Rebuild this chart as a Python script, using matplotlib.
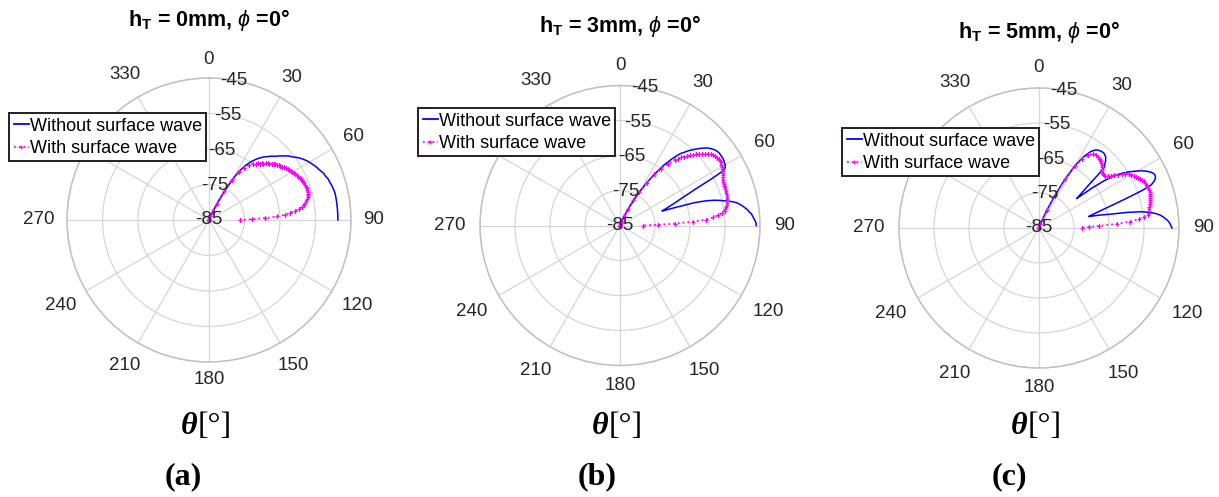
import numpy as np
import matplotlib
matplotlib.use("Agg")
import matplotlib.pyplot as plt
from matplotlib.lines import Line2D

# ---------------- data ----------------
theta_deg = np.r_[0:40:2, 40:91:1]          # sample angles (deg)
r_ticks = [-85, -75, -65, -55, -45]          # radial rings (dB)
theta_ticks = [0, 30, 60, 90, 120, 150, 180, 210, 240, 270, 330]  # 300 is hidden by the legend
titles = ["h$_\\mathbf{T}$ = 0mm, $\\phi$ =0°",
          "h$_\\mathbf{T}$ = 3mm, $\\phi$ =0°",
          "h$_\\mathbf{T}$ = 5mm, $\\phi$ =0°"]
series_labels = ["Without surface wave", "With surface wave"]
panel_tags = ["a", "b", "c"]

a_without = [-85, -85, -85, -85, -85, -85, -85, -85, -85, -85, -85,
             -83.9, -82.4, -79.9, -75.9, -71.7, -68.5, -66.3, -64.6, -63.2,
             -62.0, -61.5, -61.0, -60.6, -60.0, -59.6, -59.2, -58.6, -58.0, -57.5,
             -56.9, -56.3, -55.9, -55.5, -54.9, -54.4, -53.9, -53.5, -53.1, -52.7,
             -52.4, -52.1, -51.8, -51.5, -51.2, -51.0, -50.7, -50.4, -50.1, -50.0,
             -49.8, -49.5, -49.4, -49.3, -49.1, -49.0, -48.9, -48.8, -48.7, -48.7,
             -48.7, -48.7, -48.7, -48.7, -48.7, -48.7, -48.7, -48.7, -48.7, -48.7,
             -48.7]
a_with = [-85, -85, -85, -85, -85, -85, -85, -85, -85, -85, -85,
          -83.9, -82.4, -79.9, -75.9, -72.0, -69.1, -67.4, -66.0, -65.0,
          -64.3, -63.9, -63.6, -63.2, -62.9, -62.4, -62.0, -61.7, -61.3, -60.9,
          -60.6, -60.3, -60.0, -59.8, -59.5, -59.2, -58.9, -58.6, -58.3, -58.1,
          -57.9, -57.7, -57.5, -57.3, -57.1, -56.8, -56.6, -56.5, -56.3, -56.3,
          -56.2, -56.1, -56.1, -56.1, -56.1, -56.2, -56.3, -56.5, -56.8, -57.1,
          -57.5, -58.0, -58.6, -59.5, -60.6, -62.0, -63.4, -65.7, -69.1, -72.8,
          -76.2]
b_without = [-85, -85, -85, -85, -85, -85, -85, -85, -85, -85, -85,
             -83.8, -82.1, -79.8, -76.9, -74.1, -70.6, -67.2, -63.7, -60.8,
             -58.2, -57.4, -56.5, -55.6, -54.8, -54.1, -53.3, -52.6, -51.9, -51.3,
             -50.9, -50.5, -50.2, -50.0, -49.9, -49.9, -49.9, -49.9, -50.0, -50.2,
             -50.3, -50.6, -51.3, -55.6, -60.2, -63.1, -65.4, -67.2, -68.6, -70.0,
             -71.2, -72.3, -68.3, -62.6, -59.4, -57.1, -55.4, -53.9, -52.2, -51.0,
             -50.2, -49.5, -48.9, -48.3, -47.9, -47.3, -47.0, -46.7, -46.4, -46.1,
             -46.1]
b_with = [-85, -85, -85, -85, -85, -85, -85, -85, -85, -85, -85,
          -83.8, -82.1, -79.8, -76.9, -74.1, -70.6, -67.4, -64.9, -62.6,
          -60.5, -59.7, -58.8, -58.1, -57.4, -56.7, -55.9, -55.2, -54.5, -53.8,
          -53.2, -52.6, -52.0, -51.6, -51.3, -51.2, -51.0, -51.0, -51.0, -51.2,
          -51.3, -51.6, -51.8, -51.9, -52.2, -52.5, -52.8, -52.9, -53.1, -53.2,
          -53.2, -53.2, -53.3, -53.3, -53.3, -53.4, -53.5, -53.5, -53.6, -53.9,
          -54.2, -54.5, -54.8, -55.6, -56.8, -58.2, -60.5, -64.0, -69.2, -74.1,
          -78.4]
c_without = [-85, -85, -85, -85, -85, -85, -85, -85, -85, -85,
             -83.9, -82.1, -79.3, -74.7, -69.3, -64.4, -61.0, -58.7, -57.4, -56.9,
             -56.7, -56.7, -56.9, -57.1, -57.6, -58.1, -59.0, -59.3, -62.4, -65.9,
             -68.1, -69.9, -71.3, -66.1, -62.1, -59.3, -57.6, -56.1, -54.7, -53.6,
             -52.4, -51.3, -50.4, -49.6, -49.0, -48.6, -48.6, -48.9, -49.6, -50.7,
             -53.6, -57.6, -61.0, -63.9, -66.1, -67.9, -69.3, -70.4, -67.3, -64.4,
             -59.3, -55.3, -53.0, -51.3, -50.1, -49.3, -48.6, -48.0, -47.6, -47.3,
             -47.0]
c_with = [-85, -85, -85, -85, -85, -85, -85, -85, -85, -85,
          -83.9, -82.1, -79.3, -74.7, -69.3, -64.7, -61.9, -59.9, -58.7, -58.4,
          -58.6, -58.7, -58.9, -59.0, -59.3, -59.6, -60.0, -60.4, -60.7, -61.0,
          -61.1, -61.1, -61.0, -60.4, -59.6, -58.7, -57.7, -56.7, -55.9, -55.1,
          -54.6, -54.1, -53.7, -53.3, -53.0, -52.6, -52.3, -52.1, -52.0, -51.9,
          -51.8, -51.7, -51.8, -51.9, -52.0, -52.1, -52.3, -52.4, -52.6, -52.9,
          -53.0, -53.3, -53.4, -53.6, -54.7, -56.4, -59.0, -62.7, -67.9, -70.7,
          -72.7]

without_series = [a_without, b_without, c_without]
with_series = [a_with, b_with, c_with]

# ---------------- style / layout ----------------
plt.rcParams['font.family'] = ['Liberation Sans', 'DejaVu Sans']
plt.rcParams['mathtext.fontset'] = 'custom'
plt.rcParams['mathtext.rm'] = 'Liberation Sans'
plt.rcParams['mathtext.bf'] = 'Liberation Sans:bold'
plt.rcParams['mathtext.it'] = 'Liberation Sans:italic'

W, H = 1219, 497
fig = plt.figure(figsize=(W / 100, H / 100), dpi=100)

layout = [
    dict(cx=209, cy=220.0, R=142, ty=20, leg=(9, 113), tag_x=183),
    dict(cx=620, cy=225.5, R=140, ty=26, leg=(418, 108), tag_x=597),
    dict(cx=1039, cy=228.0, R=140, ty=32, leg=(842, 128), tag_x=1009),
]

th = np.deg2rad(theta_deg)
grid_col = '#d6d6d6'
tick_fs = 13.5
txt_col = '#262626'

for i, L in enumerate(layout):
    cx, cy, R = L['cx'], L['cy'], L['R']
    ax = fig.add_axes([(cx - R) / W, (H - cy - R) / H, 2 * R / W, 2 * R / H],
                      projection='polar')
    ax.set_theta_zero_location('N')
    ax.set_theta_direction(-1)
    ax.set_ylim(r_ticks[0], r_ticks[-1])
    ax.set_yticks(r_ticks)
    ax.set_yticklabels([])
    ax.set_xticks(np.deg2rad(np.arange(0, 360, 30)))
    ax.set_xticklabels([])
    ax.tick_params(length=0)
    ax.grid(True, color=grid_col, lw=0.9)
    ax.spines['polar'].set_color('#c0c0c0')
    ax.spines['polar'].set_linewidth(1.1)
    ax.set_facecolor('white')

    ax.plot(th, without_series[i], color='#0000ff', lw=1.1, zorder=3)
    ax.plot(th, with_series[i], color='#ff00ff', ls=':', lw=1.3,
            marker='+', ms=3.5, mew=0.9, zorder=4)

    # radial labels
    for r in r_ticks:
        ax.text(np.deg2rad(10), r, str(r), ha='center', va='center',
                fontsize=tick_fs, zorder=6, color=txt_col)
    # angular labels (centre distance grows with the label's extent)
    for ang in theta_ticks:
        s = str(ang)
        a = np.deg2rad(ang)
        w_px, h_px = 11.5 * len(s), 14.0
        dist = 153 + 0.5 * (w_px * abs(np.sin(a)) + h_px * abs(np.cos(a)))
        lab_r = r_ticks[0] + (r_ticks[-1] - r_ticks[0]) * dist / R
        ax.text(a, lab_r, s, ha='center', va='center',
                fontsize=tick_fs, color=txt_col, clip_on=False)

    # legend
    handles = [Line2D([], [], color='#0000ff', lw=1.3),
               Line2D([], [], color='#ff00ff', ls=':', lw=1.3, marker='+',
                      ms=3.5, mew=0.9)]
    lx, ly = L['leg']
    leg = ax.legend(handles, series_labels, loc='upper left',
                    bbox_to_anchor=(lx / W, 1 - ly / H),
                    bbox_transform=fig.transFigure, fontsize=13.0,
                    frameon=True, fancybox=False, framealpha=1,
                    borderpad=0.25, borderaxespad=0, handlelength=0.85,
                    handletextpad=0.05, labelspacing=0.3, numpoints=1)
    fr = leg.get_frame()
    fr.set_edgecolor('#202020')
    fr.set_linewidth(1.4)
    leg.set_zorder(10)

    # title
    fig.text(cx / W, 1 - L['ty'] / H, titles[i], ha='center', va='center',
             fontsize=15.5, fontweight='bold')
    # theta axis label
    fig.text((cx - 12) / W, 1 - 427 / H, "θ", ha='right', va='center',
             fontsize=23, fontweight='bold', fontstyle='italic',
             family='Liberation Serif')
    fig.text((cx - 11) / W, 1 - 427 / H, "[°]", ha='left', va='center',
             fontsize=23, family='Liberation Serif')
    # panel tag
    fig.text(L['tag_x'] / W, 1 - 477 / H, "(" + panel_tags[i] + ")",
             ha='center', va='center', fontsize=23, fontweight='bold',
             family='Liberation Serif')

fig.savefig("out.png", dpi=100)
